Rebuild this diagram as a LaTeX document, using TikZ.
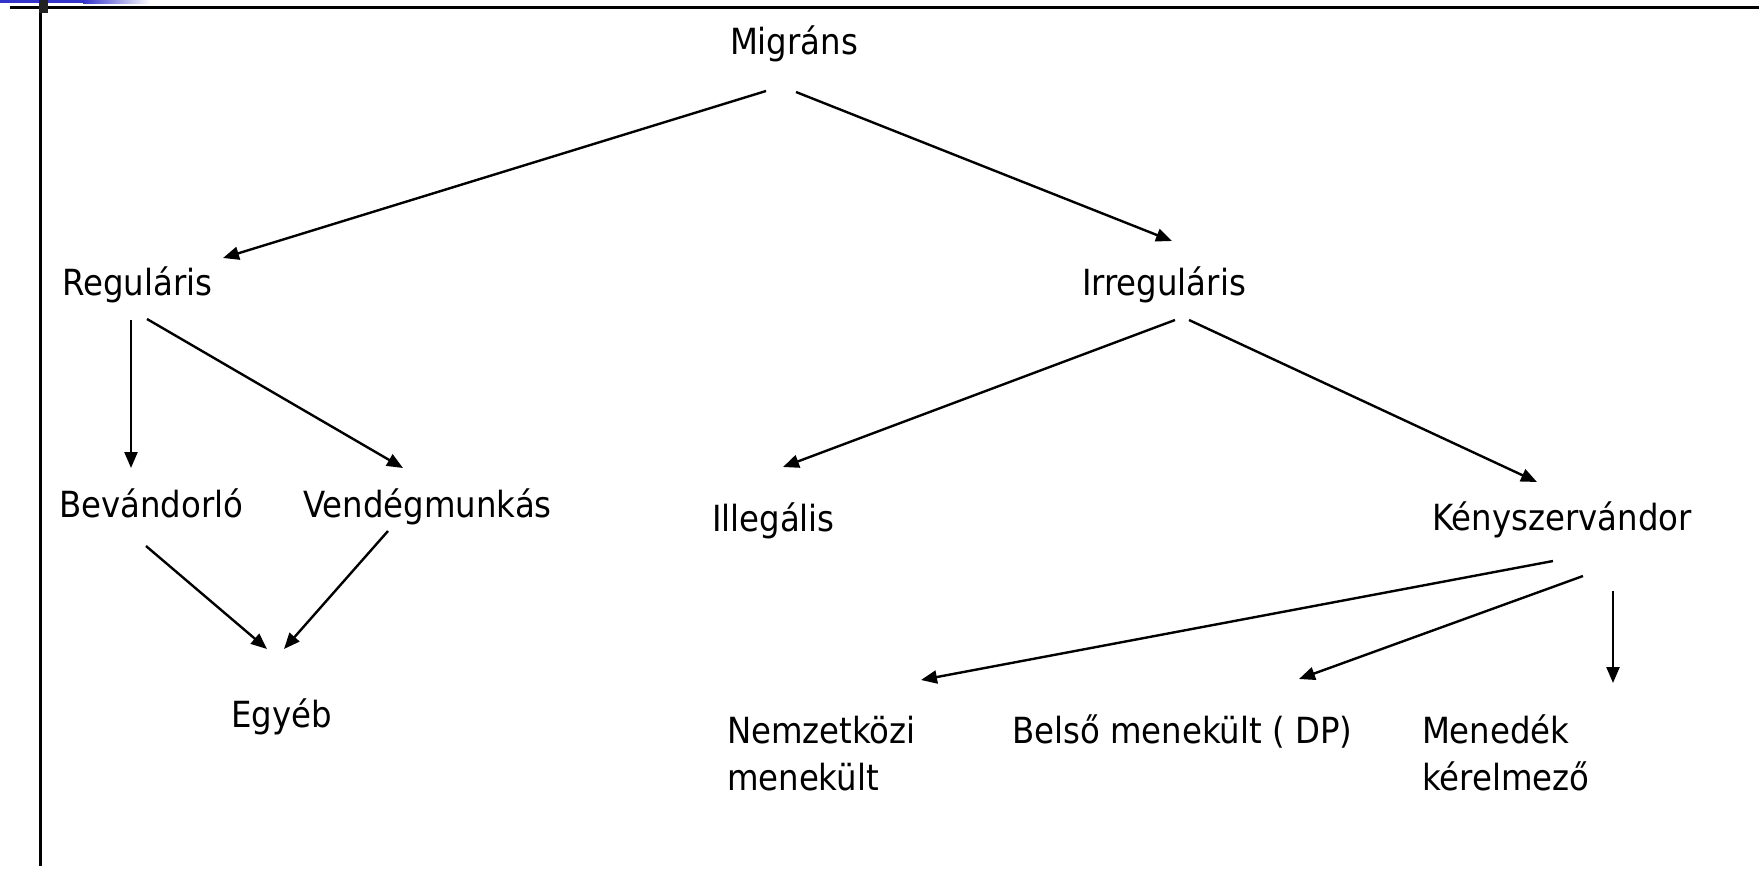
\documentclass[tikz,border=0pt]{standalone}
\usepackage{fontspec}
\setmainfont{DejaVu Sans}[FakeStretch=0.9]
\usetikzlibrary{arrows.meta}
\definecolor{barblue}{RGB}{51,51,204}
\definecolor{sqdark}{RGB}{34,34,34}
\begin{document}
\begin{tikzpicture}[x=1pt,y=-1pt,
  txt/.style={anchor=base west, inner sep=0pt, outer sep=0pt, font=\fontsize{36}{47}\selectfont, align=left},
  arr/.style={line width=2.4pt, -{Triangle[length=16pt,width=13pt]}},
  frame/.style={line width=3.2pt}]
\useasboundingbox (0,0) rectangle (1759,868);
% frame decoration
\fill[barblue] (0,0) rectangle (83,3);
\shade[left color=barblue, right color=white] (83,0) rectangle (150,3);
\draw[frame] (10,7.5) -- (1759,7.5);
\draw[frame] (40.5,0) -- (40.5,866);
\fill[sqdark] (39,0) rectangle (48,13);
% nodes
\node[txt] (mig) at (730,54) {Migráns};
\node[txt] (reg) at (62,295) {Reguláris};
\node[txt] (irr) at (1082,295) {Irreguláris};
\node[txt] (bev) at (59,517) {Bevándorló};
\node[txt] (ven) at (303,517) {Vendégmunkás};
\node[txt] (ill) at (712,531) {Illegális};
\node[txt] (ken) at (1432,530) {Kényszervándor};
\node[txt] (egy) at (231,727) {Egyéb};
\node[txt] (nem) at (727,790) {Nemzetközi\\menekült};
\node[txt] (bel) at (1012,743) {Belső menekült ( DP)};
\node[txt] (men) at (1422,790) {Menedék\\kérelmező};
% connector end points
\coordinate (mig-a) at (766,91);   \coordinate (reg-in) at (223,258);
\coordinate (mig-b) at (796,92);   \coordinate (irr-in) at (1172,241);
\coordinate (reg-a) at (131,320);  \coordinate (bev-in) at (131,468);
\coordinate (reg-b) at (147,319);  \coordinate (ven-in) at (403,468);
\coordinate (bev-a) at (146,546);  \coordinate (egy-in1) at (267,649);
\coordinate (ven-a) at (388,531);  \coordinate (egy-in2) at (284,649);
\coordinate (irr-a) at (1175,320); \coordinate (ill-in) at (783,467);
\coordinate (irr-b) at (1189,320); \coordinate (ken-in) at (1537,482);
\coordinate (ken-a) at (1553,561); \coordinate (nem-in) at (921,680);
\coordinate (ken-b) at (1583,576); \coordinate (bel-in) at (1299,679);
\coordinate (ken-c) at (1613,591); \coordinate (men-in) at (1613,683);
% connectors
\draw[arr] (mig-a) -- (reg-in);
\draw[arr] (mig-b) -- (irr-in);
\draw[arr] (reg-a) -- (bev-in);
\draw[arr] (reg-b) -- (ven-in);
\draw[arr] (bev-a) -- (egy-in1);
\draw[arr] (ven-a) -- (egy-in2);
\draw[arr] (irr-a) -- (ill-in);
\draw[arr] (irr-b) -- (ken-in);
\draw[arr] (ken-a) -- (nem-in);
\draw[arr] (ken-b) -- (bel-in);
\draw[arr] (ken-c) -- (men-in);
\end{tikzpicture}
\end{document}
